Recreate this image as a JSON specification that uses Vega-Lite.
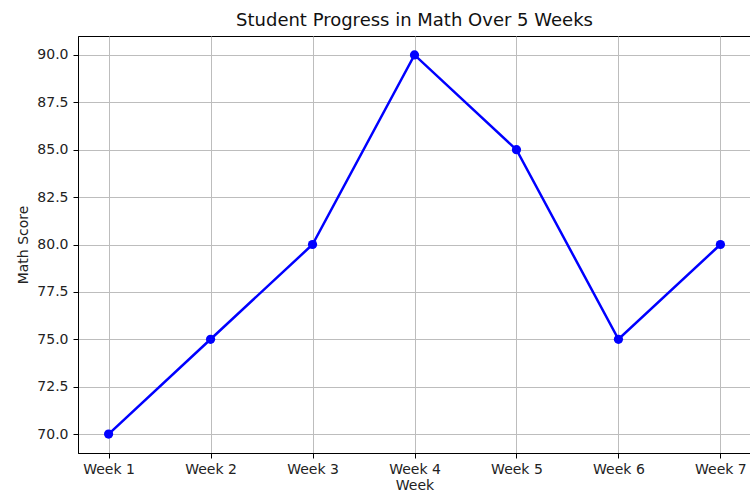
{
  "$schema": "https://vega.github.io/schema/vega-lite/v6.json",
  "width": 673,
  "height": 417,
  "autosize": {"type": "none"},
  "padding": {"left": 78, "top": 36, "right": 0, "bottom": 44},
  "background": "white",
  "config": {
    "font": "DejaVu Sans",
    "view": {"stroke": "black", "strokeWidth": 1}
  },
  "title": {
    "text": "Student Progress in Math Over 5 Weeks",
    "fontSize": 18,
    "fontWeight": "normal",
    "color": "#111",
    "anchor": "middle",
    "offset": 6
  },
  "data": {
    "values": [
      {"week": 1, "score": 70},
      {"week": 2, "score": 75},
      {"week": 3, "score": 80},
      {"week": 4, "score": 90},
      {"week": 5, "score": 85},
      {"week": 6, "score": 75},
      {"week": 7, "score": 80}
    ]
  },
  "encoding": {
    "x": {
      "field": "week",
      "type": "quantitative",
      "scale": {"domain": [0.7, 7.3], "nice": false, "zero": false},
      "axis": {
        "title": "Week",
        "values": [1, 2, 3, 4, 5, 6, 7],
        "labelExpr": "'Week ' + datum.value",
        "labelFontSize": 14,
        "titleFontSize": 14,
        "titleFontWeight": "normal",
        "labelColor": "#222",
        "titleColor": "#222",
        "labelPadding": 4,
        "titlePadding": 2,
        "tickColor": "black",
        "tickSize": 5,
        "domainColor": "black",
        "grid": true,
        "gridColor": "#bdbdbd",
        "gridWidth": 1,
        "labelFlush": false
      }
    },
    "y": {
      "field": "score",
      "type": "quantitative",
      "scale": {"domain": [69, 91], "nice": false, "zero": false},
      "axis": {
        "title": "Math Score",
        "values": [70, 72.5, 75, 77.5, 80, 82.5, 85, 87.5, 90],
        "format": ".1f",
        "labelFontSize": 14,
        "titleFontSize": 14,
        "titleFontWeight": "normal",
        "labelColor": "#222",
        "titleColor": "#222",
        "labelPadding": 5,
        "titlePadding": 6,
        "tickColor": "black",
        "tickSize": 5,
        "domainColor": "black",
        "grid": true,
        "gridColor": "#bdbdbd",
        "gridWidth": 1
      }
    }
  },
  "layer": [
    {"mark": {"type": "line", "color": "blue", "strokeWidth": 2.5}},
    {"mark": {"type": "point", "filled": true, "color": "blue", "opacity": 1, "size": 85}}
  ]
}
